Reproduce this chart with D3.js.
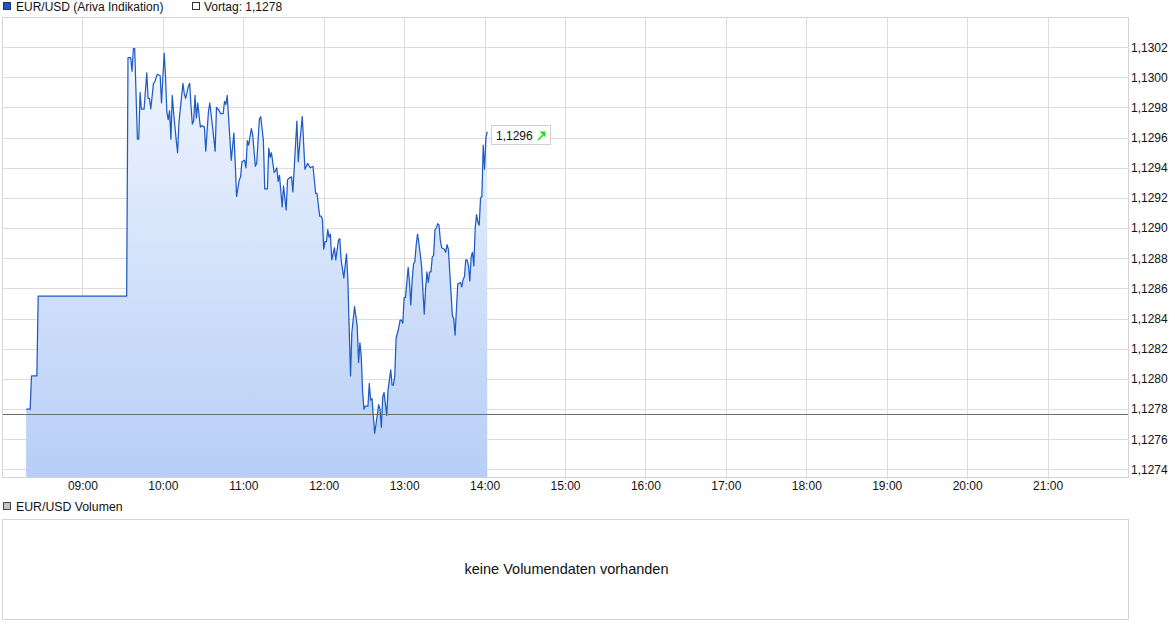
<!DOCTYPE html>
<html>
<head>
<meta charset="utf-8">
<script src="https://cdn.jsdelivr.net/npm/d3@7"></script>
<style>
  html, body { margin: 0; padding: 0; background: #fff; }
  svg { display: block; font-family: "Liberation Sans", Arial, sans-serif; }
</style>
</head>
<body>
<svg id="chart" width="1175" height="630"></svg>
<script>
// EUR/USD intraday quotes (Ariva Indikation)
const times = [
  "08:18","08:21","08:22","08:26","08:27","09:33","09:34","09:36","09:37","09:38",
  "09:39","09:41","09:42","09:43","09:44","09:46","09:48","09:49","09:50","09:51",
  "09:53","09:54","09:55","09:56","09:58","09:59","10:01","10:02","10:03","10:04",
  "10:05","10:06","10:07","10:08","10:10","10:11","10:12","10:15","10:16","10:17",
  "10:19","10:20","10:21","10:22","10:23","10:24","10:25","10:26","10:28","10:29",
  "10:31","10:32","10:34","10:35","10:37","10:39","10:40","10:42","10:43","10:45",
  "10:46","10:47","10:48","10:49","10:51","10:53","10:54","10:55","10:57","10:58",
  "10:59","11:01","11:02","11:03","11:04","11:06","11:07","11:09","11:10","11:12",
  "11:13","11:15","11:16","11:18","11:19","11:20","11:21","11:23","11:24","11:25",
  "11:26","11:27","11:29","11:30","11:32","11:33","11:34","11:36","11:37","11:38",
  "11:40","11:41","11:42","11:44","11:46","11:48","11:50","11:52","11:54","11:55",
  "11:57","11:58","11:59","12:00","12:01","12:02","12:03","12:04","12:05","12:06",
  "12:08","12:09","12:11","12:12","12:13","12:15","12:17","12:18","12:20","12:21",
  "12:23","12:25","12:26","12:27","12:28","12:29","12:30","12:31","12:33","12:34",
  "12:35","12:36","12:38","12:39","12:41","12:42","12:43","12:44","12:45","12:47",
  "12:48","12:50","12:51","12:52","12:53","12:54","12:56","12:57","12:58","12:59",
  "13:00","13:01","13:03","13:04","13:05","13:06","13:07","13:08","13:09","13:10",
  "13:11","13:13","13:15","13:16","13:17","13:18","13:19","13:20","13:21","13:22",
  "13:23","13:24","13:25","13:26","13:27","13:28","13:30","13:31","13:32","13:33",
  "13:36","13:37","13:38","13:39","13:40","13:42","13:43","13:44","13:45","13:46",
  "13:47","13:48","13:49","13:50","13:51","13:52","13:53","13:54","13:55","13:56",
  "13:57","13:58","13:59","14:00","14:01","14:02"
];
const prices = [
  1.12780,1.12780,1.12802,1.12802,1.12855,1.12855,1.13013,1.13013,1.13004,1.13019,
  1.13019,1.12959,1.12959,1.12990,1.12979,1.12979,1.13003,1.12986,1.12986,1.12979,
  1.12996,1.12997,1.13000,1.13002,1.13001,1.12983,1.13016,1.13000,1.12977,1.12972,
  1.12978,1.12959,1.12988,1.12977,1.12958,1.12950,1.12970,1.12996,1.12989,1.12986,
  1.12994,1.12996,1.12981,1.12969,1.12971,1.12988,1.12973,1.12983,1.12967,1.12968,
  1.12967,1.12951,1.12977,1.12983,1.12968,1.12951,1.12980,1.12978,1.12976,1.12976,
  1.12984,1.12982,1.12988,1.12974,1.12945,1.12963,1.12943,1.12921,1.12932,1.12934,
  1.12944,1.12945,1.12940,1.12958,1.12955,1.12966,1.12962,1.12941,1.12943,1.12972,
  1.12974,1.12958,1.12926,1.12926,1.12953,1.12947,1.12950,1.12937,1.12938,1.12940,
  1.12931,1.12935,1.12914,1.12928,1.12912,1.12932,1.12933,1.12934,1.12924,1.12940,
  1.12971,1.12944,1.12955,1.12974,1.12939,1.12943,1.12940,1.12941,1.12923,1.12923,
  1.12908,1.12908,1.12906,1.12886,1.12891,1.12891,1.12899,1.12894,1.12896,1.12879,
  1.12887,1.12879,1.12892,1.12893,1.12879,1.12867,1.12883,1.12866,1.12802,1.12831,
  1.12848,1.12835,1.12811,1.12824,1.12815,1.12792,1.12780,1.12782,1.12782,1.12797,
  1.12786,1.12787,1.12764,1.12770,1.12783,1.12780,1.12768,1.12788,1.12791,1.12776,
  1.12793,1.12806,1.12796,1.12796,1.12802,1.12827,1.12834,1.12839,1.12839,1.12837,
  1.12854,1.12854,1.12874,1.12864,1.12849,1.12866,1.12876,1.12878,1.12889,1.12896,
  1.12890,1.12875,1.12843,1.12860,1.12871,1.12864,1.12871,1.12871,1.12881,1.12882,
  1.12899,1.12900,1.12903,1.12902,1.12892,1.12887,1.12886,1.12884,1.12889,1.12886,
  1.12842,1.12840,1.12829,1.12846,1.12863,1.12864,1.12861,1.12866,1.12868,1.12879,
  1.12879,1.12875,1.12865,1.12881,1.12884,1.12875,1.12900,1.12909,1.12904,1.12902,
  1.12920,1.12921,1.12955,1.12939,1.12960,1.12964
];
const previousClose = 1.12777;
const priceTicks = [1.1274,1.1276,1.1278,1.1280,1.1282,1.1284,1.1286,1.1288,1.1290,1.1292,1.1294,1.1296,1.1298,1.1300,1.1302];
const hourTicks = ["09:00","10:00","11:00","12:00","13:00","14:00","15:00","16:00","17:00","18:00","19:00","20:00","21:00"];
const sessionRange = ["08:00","22:00"];
const priceRange = [1.12735, 1.1304];

const seriesName = "EUR/USD (Ariva Indikation)";
const volumeName = "EUR/USD Volumen";
const noVolumeText = "keine Volumendaten vorhanden";

// German number formatting (decimal comma)
const de = d3.formatLocale({decimal: ",", thousands: ".", grouping: [3], currency: ["", " €"]});
const fmt4 = de.format(".4f");
const parseT = d3.timeParse("%H:%M");

const data = times.map((t, i) => ({t: parseT(t), v: prices[i]}));

const svg = d3.select("#chart");
const plot = {left: 2, right: 1128, top: 17, bottom: 477};

const x = d3.scaleTime().domain(sessionRange.map(parseT)).range([plot.left, plot.right]);
const y = d3.scaleLinear().domain(priceRange).range([plot.bottom, plot.top]);

const gridColor = "#dcdcdc";

// gradient for the area below the price line
const defs = svg.append("defs");
const grad = defs.append("linearGradient")
  .attr("id", "areaFill").attr("gradientUnits", "userSpaceOnUse")
  .attr("x1", 0).attr("x2", 0).attr("y1", plot.top).attr("y2", plot.bottom);
grad.append("stop").attr("offset", 0).attr("stop-color", "#f5f9ff");
grad.append("stop").attr("offset", 1).attr("stop-color", "#b7cef6");

// ---------- legend (price panel)
const lg = svg.append("g");
lg.append("rect").attr("x", 3.5).attr("y", 2.5).attr("width", 7).attr("height", 7)
  .attr("fill", "#2356bd").attr("stroke", "#1a3770");
lg.append("text").attr("x", 16).attr("y", 11).attr("font-size", 12).attr("fill", "#111")
  .text(seriesName);
lg.append("rect").attr("x", 192.5).attr("y", 2.5).attr("width", 7).attr("height", 7)
  .attr("fill", "#fff").attr("stroke", "#333");
lg.append("text").attr("x", 204).attr("y", 11).attr("font-size", 12).attr("fill", "#111")
  .text("Vortag: " + fmt4(previousClose));

// ---------- grid
const grid = svg.append("g").attr("shape-rendering", "crispEdges");
grid.selectAll("line.h").data(priceTicks).join("line")
  .attr("x1", plot.left).attr("x2", plot.right)
  .attr("y1", d => Math.round(y(d)) + 0.5).attr("y2", d => Math.round(y(d)) + 0.5)
  .attr("stroke", gridColor);
grid.selectAll("line.v").data(hourTicks.map(parseT)).join("line")
  .attr("y1", plot.top).attr("y2", plot.bottom + 2)
  .attr("x1", d => Math.round(x(d)) + 0.5).attr("x2", d => Math.round(x(d)) + 0.5)
  .attr("stroke", gridColor);

// ---------- area + line
svg.append("path").datum(data)
  .attr("fill", "url(#areaFill)")
  .attr("d", d3.area().x(d => x(d.t)).y0(plot.bottom).y1(d => y(d.v)));

svg.append("path").datum(data)
  .attr("fill", "none").attr("stroke", "#1f5bc6").attr("stroke-width", 1.25)
  .attr("stroke-linejoin", "round")
  .attr("d", d3.line().x(d => x(d.t)).y(d => y(d.v)));

// previous close reference line
svg.append("line")
  .attr("x1", plot.left).attr("x2", plot.right)
  .attr("y1", Math.round(y(previousClose)) + 0.5).attr("y2", Math.round(y(previousClose)) + 0.5)
  .attr("stroke", "#6e6e6e").attr("stroke-width", 1).attr("shape-rendering", "crispEdges");

// frame
svg.append("rect")
  .attr("x", plot.left + 0.5).attr("y", plot.top + 0.5)
  .attr("width", plot.right - plot.left).attr("height", plot.bottom - plot.top)
  .attr("fill", "none").attr("stroke", "#d4d4d4").attr("shape-rendering", "crispEdges");

// ---------- axes
const yAxis = svg.append("g")
  .attr("transform", `translate(${plot.right},0)`)
  .call(d3.axisRight(y).tickValues(priceTicks).tickFormat(fmt4).tickSize(0).tickPadding(3));
yAxis.select(".domain").remove();
yAxis.selectAll("text").attr("font-size", 12).attr("fill", "#111")
  .attr("font-family", "Liberation Sans, Arial, sans-serif");

const xAxis = svg.append("g")
  .attr("transform", `translate(0,${plot.bottom})`)
  .call(d3.axisBottom(x).tickValues(hourTicks.map(parseT)).tickFormat(d3.timeFormat("%H:%M")).tickSize(0).tickPadding(4));
xAxis.select(".domain").remove();
xAxis.selectAll("text").attr("font-size", 12).attr("fill", "#111")
  .attr("font-family", "Liberation Sans, Arial, sans-serif");

// ---------- last price label
const last = data[data.length - 1];
const lx = x(last.t) + 4, ly = y(last.v) + 3;
const tag = svg.append("g").attr("transform", `translate(${Math.round(lx)},${Math.round(ly)})`);
tag.append("rect").attr("x", 0.5).attr("y", -9.5).attr("width", 59).attr("height", 19)
  .attr("fill", "#fff").attr("stroke", "#cfcfcf");
tag.append("text").attr("x", 5).attr("y", 4.5).attr("font-size", 12).attr("fill", "#111")
  .text(fmt4(last.v));
// upward arrow (price above previous close)
const arrowColor = last.v >= previousClose ? "#1ee01e" : "#e01e1e";
tag.append("line").attr("x1", 47).attr("y1", 5).attr("x2", 52).attr("y2", 0)
  .attr("stroke", arrowColor).attr("stroke-width", 1.6);
tag.append("path").attr("d", "M48.5,-3.5 L54.5,-3.5 L54.5,2.5 Z").attr("fill", arrowColor);

// ---------- volume panel
const vg = svg.append("g");
vg.append("rect").attr("x", 3.5).attr("y", 502.5).attr("width", 7).attr("height", 7)
  .attr("fill", "#c4c4c4").attr("stroke", "#444");
vg.append("text").attr("x", 16).attr("y", 511).attr("font-size", 12.3).attr("fill", "#111")
  .text(volumeName);
vg.append("rect").attr("x", plot.left + 0.5).attr("y", 519.5)
  .attr("width", plot.right - plot.left).attr("height", 100)
  .attr("fill", "#fff").attr("stroke", "#d4d4d4").attr("shape-rendering", "crispEdges");
vg.append("text").attr("x", (plot.left + plot.right) / 2 + 1.5).attr("y", 574)
  .attr("text-anchor", "middle").attr("font-size", 14.5).attr("fill", "#111")
  .text(noVolumeText);
</script>
</body>
</html>
